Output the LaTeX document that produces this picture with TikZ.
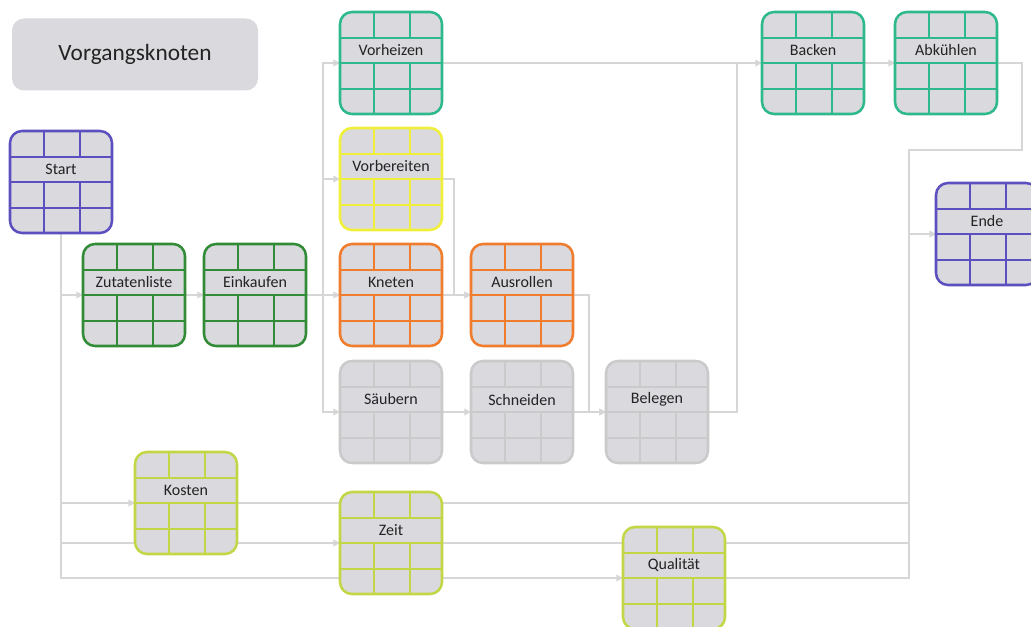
\documentclass[tikz,border=0pt]{standalone}
\usepackage{fontspec}
\setmainfont{Carlito}
\usetikzlibrary{arrows.meta,backgrounds}
\definecolor{vkpurple}{RGB}{92,80,192}
\definecolor{vkteal}{RGB}{45,185,140}
\definecolor{vkyellow}{RGB}{240,240,60}
\definecolor{vkgreen}{RGB}{50,140,55}
\definecolor{vkorange}{RGB}{240,125,45}
\definecolor{vkgray}{RGB}{202,202,202}
\definecolor{vklime}{RGB}{195,215,70}
\definecolor{vkfill}{RGB}{217,217,222}
\definecolor{vkline}{RGB}{214,214,214}
\definecolor{vktext}{RGB}{35,35,35}
\tikzset{
  vkbox/.style={rectangle, rounded corners=9pt, minimum width=76.5pt, minimum height=76.5pt,
    inner sep=0pt, outer sep=0pt, fill=vkfill, line width=1.9pt},
  vkgrid/.style={line width=1.4pt},
  vklabel/.style={yshift=9.375pt, text=vktext, font=\fontsize{12}{14}\selectfont, inner sep=0pt},
  vkplain/.style={draw=vkline, line width=1.1pt},
  vkconn/.style={vkplain, -{Triangle[length=5pt,width=5pt,color=vkline]}},
  vktitle/.style={rectangle, rounded corners=9pt, fill=vkfill, minimum width=184.5pt,
    minimum height=54pt, text=vktext, font=\fontsize{17.5}{20}\selectfont}
}
\newcommand\vknode[5]{%
  \node[vkbox, draw=#4, label={[vklabel]center:#5}] (#1) at (#2+51,#3+51) {};
  \draw[vkgrid, #4] (#2+34,#3) -- (#2+34,#3+26) (#2+70,#3) -- (#2+70,#3+26)
    (#2,#3+26) -- (#2+102,#3+26) (#2,#3+51) -- (#2+102,#3+51) (#2,#3+77) -- (#2+102,#3+77)
    (#2+34,#3+51) -- (#2+34,#3+102) (#2+70,#3+51) -- (#2+70,#3+102);
}
\begin{document}
\begin{tikzpicture}[x=0.75pt, y=-0.75pt]
\useasboundingbox (0,0) rectangle (1031,627);
\clip (0,0) rectangle (1031,627);
\node[vktitle] (title) at (135,54.5) {Vorgangsknoten};
\vknode{Start}{10}{131}{vkpurple}{Start}
\vknode{Zutatenliste}{83}{244}{vkgreen}{Zutatenliste}
\vknode{Einkaufen}{204}{244}{vkgreen}{Einkaufen}
\vknode{Vorheizen}{340}{12}{vkteal}{Vorheizen}
\vknode{Vorbereiten}{340}{128}{vkyellow}{Vorbereiten}
\vknode{Kneten}{340}{244}{vkorange}{Kneten}
\vknode{Ausrollen}{471}{244}{vkorange}{Ausrollen}
\vknode{Saeubern}{340}{361}{vkgray}{Säubern}
\vknode{Schneiden}{471}{361}{vkgray}{Schneiden}
\vknode{Belegen}{606}{361}{vkgray}{Belegen}
\vknode{Backen}{762}{12}{vkteal}{Backen}
\vknode{Abkuehlen}{895}{12}{vkteal}{Abkühlen}
\vknode{Ende}{936}{183}{vkpurple}{Ende}
\vknode{Kosten}{135}{452}{vklime}{Kosten}
\vknode{Zeit}{340}{492}{vklime}{Zeit}
\vknode{Qualitaet}{623}{527}{vklime}{Qualität}
\coordinate (b) at (323,295);
\coordinate (j) at (737,63);
\coordinate (r1) at (909,150);
\coordinate (r2) at (1022,150);
\begin{scope}[on background layer]
\draw[vkconn] (Start.south) |- (Zutatenliste.west);
\draw[vkconn] (Start.south) |- (Kosten.west);
\draw[vkconn] (Start.south) |- (Zeit.west);
\draw[vkconn] (Start.south) |- (Qualitaet.west);
\draw[vkplain] (Kosten.east) -| (r1);
\draw[vkplain] (Zeit.east) -| (r1);
\draw[vkplain] (Qualitaet.east) -| (r1);
\draw[vkconn] (Abkuehlen.east) -| (r2) -- (r1) |- (Ende.west);
\draw[vkconn] (Zutatenliste.east) -- (Einkaufen.west);
\draw[vkconn] (Einkaufen.east) -- (Kneten.west);
\draw[vkconn] (b) |- (Vorheizen.west);
\draw[vkconn] (b) |- (Vorbereiten.west);
\draw[vkconn] (b) |- (Saeubern.west);
\draw[vkconn] (Vorheizen.east) -- (Backen.west);
\draw[vkconn] (Backen.east) -- (Abkuehlen.west);
\draw[vkconn] (Vorbereiten.east) -- ++(12,0) |- (Ausrollen.west);
\draw[vkconn] (Kneten.east) -- (Ausrollen.west);
\draw[vkconn] (Ausrollen.east) -- ++(16,0) |- (Belegen.west);
\draw[vkconn] (Saeubern.east) -- (Schneiden.west);
\draw[vkconn] (Schneiden.east) -- (Belegen.west);
\draw[vkplain] (Belegen.east) -| (j);
\end{scope}
\end{tikzpicture}
\end{document}
